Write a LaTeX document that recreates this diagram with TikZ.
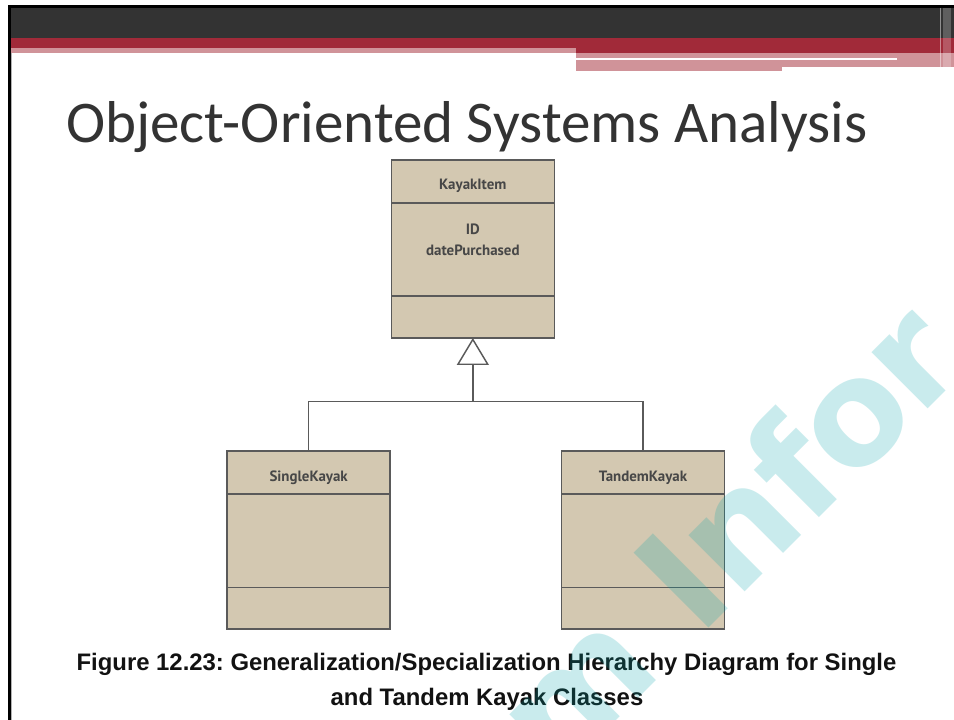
\documentclass[tikz,border=0pt]{standalone}
\usepackage{fontspec}
\setmainfont{Liberation Sans}
\newfontfamily\titlefont{Carlito}
\newfontfamily\classfont{PT Sans}
\newfontfamily\markfont{DejaVu Sans}
\usetikzlibrary{arrows.meta,calc}

\definecolor{barDark}{HTML}{333333}
\definecolor{barRed}{HTML}{A12A39}
\definecolor{barPink}{HTML}{D09399}
\definecolor{classFill}{HTML}{D3C8B1}
\definecolor{classLine}{HTML}{5A5A5A}
\definecolor{classText}{HTML}{474747}
\definecolor{titleText}{HTML}{333333}
\definecolor{markCyan}{RGB}{0,165,170}

\begin{document}
\frenchspacing
\begin{tikzpicture}[x=0.75pt,y=-0.75pt,
  classbox/.style={draw=classLine, fill=classFill, line width=1.2pt,
    minimum width=163*0.75pt, minimum height=178*0.75pt,
    inner sep=0pt, outer sep=0pt},
  divider/.style={draw=classLine, line width=1.2pt},
  classname/.style={font=\classfont\bfseries\fontsize{11.2}{13}\selectfont,
    text=classText, inner sep=0pt, anchor=base},
  link/.style={draw=classLine, line width=1.1pt},
  captionline/.style={font=\bfseries\fontsize{17.9}{21}\selectfont,
    text=black!93, inner sep=0pt, anchor=base},
  markletter/.style={font=\markfont\bfseries\fontsize{109}{120}\selectfont,
    text=markCyan, text opacity=0.21, rotate=45, inner sep=0pt, anchor=base}]

\useasboundingbox (0,0) rectangle (954,720);
\fill[white] (0,0) rectangle (954,720);

% slide header bars and frame
\fill[black] (8,5) rectangle (954,8);
\fill[black] (8,5) rectangle (11,720);
\draw[gray!60, line width=0.6pt] (11.4,53) -- (11.4,720);
\fill[barDark] (11,8) rectangle (954,38);
\fill[barRed] (11,38) rectangle (954,48);
\fill[barRed] (576,48) rectangle (954,53);
\fill[barPink] (11,48) rectangle (576,53);
\fill[barPink] (576,53) rectangle (782,71);
\fill[barPink] (782,53) rectangle (954,67);
\fill[white] (576,58) rectangle (897,60);
\fill[white, opacity=0.22] (943,8) rectangle (951,71);
\draw[white, opacity=0.45, line width=0.5pt] (940.5,8) -- (940.5,67);

% slide title
\node[anchor=base west, font=\titlefont\fontsize{44.3}{50}\selectfont,
  text=titleText, inner sep=0pt] (title) at (66,143)
  {Object-Oriented Systems Analysis};

% class boxes
\node[classbox] (kayak) at (472.85,249) {};
\draw[divider] ($(kayak.north west)+(0,43)$) -- ($(kayak.north east)+(0,43)$);
\draw[divider] ($(kayak.north west)+(0,136)$) -- ($(kayak.north east)+(0,136)$);
\node[classname] (kayakname) at ($(kayak.north)+(0,29.5)$) {KayakItem};
\node[classname] (kayakid) at ($(kayak.north)+(0,75)$) {ID};
\node[classname] (kayakdate) at ($(kayak.north)+(0,96)$) {datePurchased};

\node[classbox] (single) at (308.65,540) {};
\draw[divider] ($(single.north west)+(0,43)$) -- ($(single.north east)+(0,43)$);
\draw[divider] ($(single.north west)+(0,136.5)$) -- ($(single.north east)+(0,136.5)$);
\node[classname] (singlename) at ($(single.north)+(0,30.5)$) {SingleKayak};

\node[classbox] (tandem) at (643,540) {};
\draw[divider] ($(tandem.north west)+(0,43)$) -- ($(tandem.north east)+(0,43)$);
\draw[divider] ($(tandem.north west)+(0,136.5)$) -- ($(tandem.north east)+(0,136.5)$);
\node[classname] (tandemname) at ($(tandem.north)+(0,30.5)$) {TandemKayak};

% generalization connectors
\coordinate (hub) at (472.85,401.7);
\draw[link] (single.north) |- (hub) -| (tandem.north);
\draw[link, -{Triangle[length=27*0.75pt, width=32*0.75pt, fill=white]}]
  (hub) -- (kayak.south);

% caption
\node[captionline] (caption1) at (486.5,670)
  {Figure 12.23: Generalization/Specialization Hierarchy Diagram for Single};
\node[captionline] (caption2) at (487,705) {and Tandem Kayak Classes};

% watermark lettering, set letter by letter along a 45 degree baseline
\begin{scope}
  \clip (11,8) rectangle (954,720);
  \node[markletter] (markm) at (611.5,725.5) {m};
  \node[markletter] (markI) at (719.0,618.0) {I};
  \node[markletter] (markn) at (773.1,563.9) {n};
  \node[markletter] (markf) at (830.5,506.5) {f};
  \node[markletter] (marko) at (886.3,450.7) {o};
  \node[markletter] (markr) at (945.3,391.7) {r};
\end{scope}
\end{tikzpicture}
\end{document}
